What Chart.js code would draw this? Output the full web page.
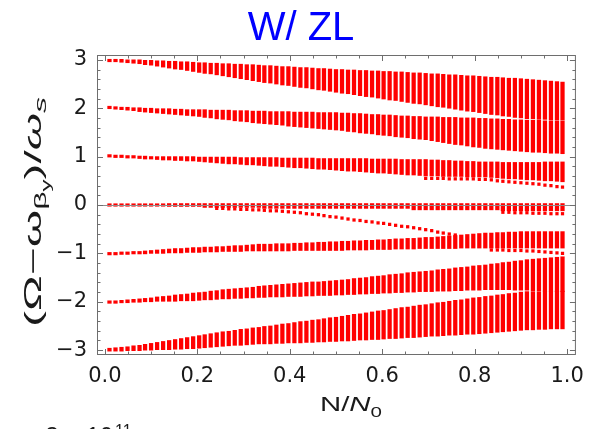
<!DOCTYPE html>
<html>
<head>
<meta charset="utf-8">
<script src="https://cdn.jsdelivr.net/npm/chart.js@4.4.1/dist/chart.umd.min.js"></script>
<style>
  html, body { margin: 0; padding: 0; background: #fff; }
  #wrap { width: 593px; height: 429px; position: relative; }
</style>
</head>
<body>
<div id="wrap"><canvas id="chart"></canvas></div>
<script>
// N/N0 sample points (one column of bars each)
var xs = [0.010,0.023,0.036,0.049,0.062,0.075,0.087,0.100,0.113,0.126,
          0.139,0.152,0.165,0.178,0.191,0.204,0.216,0.229,0.242,0.255,
          0.268,0.281,0.294,0.307,0.320,0.333,0.345,0.358,0.371,0.384,
          0.397,0.410,0.423,0.436,0.449,0.462,0.474,0.487,0.500,0.513,
          0.526,0.539,0.552,0.565,0.578,0.591,0.603,0.616,0.629,0.642,
          0.655,0.668,0.681,0.694,0.707,0.720,0.732,0.745,0.758,0.771,
          0.784,0.797,0.810,0.823,0.836,0.849,0.861,0.874,0.887,0.900,
          0.913,0.926,0.939,0.952,0.965,0.978,0.990];

// mode +3
var mode3Hi = [3.01,3.01,3.01,3.00,3.00,3.00,2.99,2.99,2.98,2.98,
               2.97,2.97,2.96,2.96,2.95,2.94,2.94,2.93,2.93,2.92,
               2.92,2.91,2.91,2.90,2.90,2.89,2.88,2.88,2.87,2.86,
               2.86,2.85,2.84,2.84,2.83,2.82,2.82,2.81,2.80,2.80,
               2.79,2.79,2.78,2.78,2.77,2.77,2.76,2.76,2.75,2.75,
               2.74,2.73,2.73,2.72,2.71,2.71,2.70,2.69,2.69,2.68,
               2.67,2.67,2.66,2.65,2.64,2.64,2.63,2.62,2.62,2.61,
               2.60,2.59,2.58,2.57,2.56,2.55,2.54];
var mode3Lo = [2.96,2.96,2.95,2.94,2.93,2.92,2.90,2.89,2.87,2.85,
               2.83,2.81,2.80,2.78,2.76,2.74,2.72,2.71,2.69,2.67,
               2.65,2.63,2.61,2.59,2.57,2.55,2.53,2.52,2.50,2.48,
               2.47,2.45,2.43,2.42,2.40,2.38,2.37,2.35,2.33,2.31,
               2.30,2.28,2.26,2.24,2.23,2.21,2.19,2.17,2.16,2.14,
               2.12,2.10,2.09,2.07,2.05,2.03,2.02,2.00,1.98,1.96,
               1.94,1.93,1.91,1.89,1.87,1.86,1.84,1.83,1.81,1.80,
               1.78,1.78,1.77,1.77,1.76,1.76,1.76];

// mode +2
var mode2Hi = [2.03,2.03,2.02,2.02,2.01,2.01,2.00,2.00,1.99,1.99,
               1.99,1.98,1.98,1.97,1.97,1.97,1.97,1.96,1.96,1.96,
               1.96,1.95,1.95,1.95,1.94,1.94,1.94,1.93,1.93,1.93,
               1.93,1.92,1.92,1.92,1.92,1.91,1.91,1.91,1.91,1.90,
               1.90,1.89,1.89,1.88,1.87,1.87,1.86,1.86,1.85,1.84,
               1.84,1.83,1.83,1.82,1.82,1.82,1.81,1.81,1.81,1.80,
               1.80,1.80,1.79,1.79,1.78,1.78,1.77,1.77,1.76,1.76,
               1.75,1.75,1.75,1.74,1.74,1.74,1.74];
var mode2Lo = [1.99,1.98,1.97,1.96,1.95,1.93,1.92,1.91,1.90,1.89,
               1.88,1.87,1.86,1.85,1.84,1.83,1.81,1.80,1.78,1.77,
               1.76,1.74,1.73,1.72,1.70,1.69,1.68,1.67,1.66,1.65,
               1.63,1.62,1.61,1.60,1.59,1.58,1.57,1.56,1.55,1.54,
               1.52,1.51,1.49,1.48,1.47,1.45,1.44,1.43,1.41,1.40,
               1.39,1.37,1.36,1.35,1.33,1.31,1.29,1.27,1.25,1.24,
               1.22,1.20,1.19,1.17,1.16,1.15,1.14,1.13,1.12,1.11,
               1.10,1.09,1.09,1.08,1.07,1.07,1.06];

// mode +1
var mode1Hi = [1.03,1.03,1.02,1.02,1.01,1.01,1.01,1.00,1.00,1.00,
               1.00,1.00,1.00,1.00,1.00,0.99,0.99,0.99,0.99,0.99,
               0.99,0.99,0.98,0.98,0.98,0.98,0.98,0.98,0.98,0.97,
               0.97,0.97,0.97,0.97,0.97,0.96,0.96,0.96,0.96,0.96,
               0.96,0.96,0.96,0.96,0.95,0.95,0.95,0.95,0.95,0.94,
               0.94,0.94,0.94,0.94,0.93,0.93,0.92,0.92,0.91,0.91,
               0.90,0.90,0.89,0.89,0.89,0.89,0.88,0.88,0.88,0.88,
               0.88,0.88,0.88,0.89,0.89,0.89,0.89];
var mode1Lo = [0.99,0.98,0.98,0.97,0.97,0.96,0.95,0.95,0.94,0.93,
               0.93,0.92,0.92,0.91,0.91,0.90,0.89,0.88,0.87,0.86,
               0.85,0.85,0.84,0.83,0.83,0.82,0.81,0.80,0.80,0.79,
               0.78,0.77,0.77,0.76,0.75,0.74,0.74,0.73,0.72,0.71,
               0.70,0.70,0.69,0.68,0.67,0.66,0.66,0.65,0.64,0.63,
               0.62,0.62,0.61,0.60,0.60,0.60,0.59,0.59,0.59,0.59,
               0.58,0.58,0.58,0.58,0.57,0.56,0.55,0.54,0.54,0.53,
               0.52,0.52,0.51,0.50,0.50,0.49,0.48];
// split-off points under mode +1 (from xs[53] on)
var mode1Dots = [0.55,0.55,0.55,0.55,0.54,0.54,0.54,0.54,0.54,0.53,0.53,
                 0.52,0.50,0.49,0.48,0.47,0.46,0.45,
                 0.44,0.43,0.41,0.40,0.38,0.37];

// mode 0
var mode0Hi = [0.03,0.03,0.03,0.03,0.03,0.03,0.03,0.03,0.03,0.03,
               0.03,0.03,0.03,0.03,0.03,0.03,0.03,0.03,0.03,0.03,
               0.03,0.03,0.03,0.03,0.03,0.03,0.03,0.03,0.03,0.03,
               0.03,0.03,0.03,0.03,0.03,0.03,0.03,0.03,0.03,0.03,
               0.03,0.03,0.03,0.03,0.03,0.03,0.03,0.03,0.03,0.03,
               0.03,0.03,0.03,0.03,0.03,0.03,0.03,0.03,0.03,0.03,
               0.03,0.03,0.03,0.03,0.03,0.03,0.03,0.03,0.03,0.03,
               0.03,0.03,0.03,0.03,0.03,0.03,0.03];
var mode0Lo = [0.00,0.00,0.00,0.00,0.00,0.00,0.00,0.00,0.00,0.00,
               -0.03,-0.03,-0.03,-0.03,-0.03,-0.03,-0.05,-0.05,-0.05,-0.05,
               -0.05,-0.05,-0.05,-0.05,-0.05,-0.05,-0.07,-0.07,-0.07,-0.07,
               -0.07,-0.07,-0.07,-0.07,-0.07,-0.07,-0.07,-0.07,-0.07,-0.07,
               -0.07,-0.07,-0.07,-0.07,-0.07,-0.07,-0.07,-0.07,-0.07,-0.07,
               -0.07,-0.10,-0.10,-0.10,-0.10,-0.10,-0.10,-0.10,-0.10,-0.10,
               -0.10,-0.10,-0.10,-0.10,-0.10,-0.10,-0.12,-0.12,-0.12,-0.12,
               -0.12,-0.12,-0.12,-0.12,-0.12,-0.12,-0.12];
// points just under mode 0 (from xs[66] on)
var mode0Dots = [-0.15,-0.15,-0.16,-0.16,-0.16,-0.17,-0.17,-0.17,-0.18,-0.18,-0.18];
// branch leaving mode 0 and joining mode -1 (xs[18] .. xs[58])
var branchDots = [-0.07,-0.07,-0.08,-0.08,-0.09,-0.09,-0.10,-0.10,-0.11,-0.12,
                  -0.12,-0.13,-0.14,-0.15,-0.16,-0.18,-0.19,-0.20,-0.22,-0.24,
                  -0.25,-0.27,-0.29,-0.31,-0.32,-0.34,-0.35,-0.37,-0.38,-0.40,
                  -0.42,-0.44,-0.45,-0.47,-0.49,-0.51,-0.53,-0.56,-0.58,-0.60,
                  -0.62];

// mode -1
var modeN1Hi = [-0.98,-0.98,-0.97,-0.97,-0.96,-0.96,-0.95,-0.94,-0.93,-0.92,
                -0.91,-0.90,-0.90,-0.89,-0.88,-0.88,-0.87,-0.87,-0.86,-0.86,
                -0.85,-0.84,-0.84,-0.83,-0.82,-0.81,-0.81,-0.81,-0.80,-0.80,
                -0.80,-0.79,-0.79,-0.78,-0.78,-0.77,-0.77,-0.76,-0.76,-0.75,
                -0.75,-0.74,-0.74,-0.73,-0.73,-0.72,-0.72,-0.71,-0.70,-0.70,
                -0.69,-0.69,-0.68,-0.67,-0.67,-0.66,-0.65,-0.64,-0.63,-0.62,
                -0.61,-0.60,-0.59,-0.58,-0.58,-0.57,-0.57,-0.56,-0.56,-0.55,
                -0.55,-0.55,-0.55,-0.55,-0.55,-0.55,-0.55];
var modeN1Lo = [-1.02,-1.02,-1.02,-1.01,-1.01,-1.01,-1.01,-1.00,-1.00,-1.00,
                -0.99,-0.99,-0.99,-0.98,-0.98,-0.98,-0.97,-0.97,-0.97,-0.96,
                -0.96,-0.96,-0.96,-0.95,-0.95,-0.95,-0.95,-0.95,-0.95,-0.95,
                -0.95,-0.94,-0.94,-0.94,-0.94,-0.94,-0.94,-0.94,-0.94,-0.94,
                -0.93,-0.93,-0.93,-0.93,-0.92,-0.92,-0.92,-0.92,-0.91,-0.91,
                -0.91,-0.91,-0.90,-0.90,-0.90,-0.90,-0.90,-0.90,-0.90,-0.89,
                -0.89,-0.89,-0.89,-0.89,-0.89,-0.89,-0.89,-0.89,-0.89,-0.89,
                -0.89,-0.89,-0.89,-0.89,-0.89,-0.89,-0.89];
// points under mode -1 (from xs[64] on)
var modeN1Dots = [-0.93,-0.93,-0.93,-0.94,-0.94,-0.94,-0.95,-0.95,-0.96,-0.97,-0.98,-0.99,-1.00];

// mode -2
var modeN2Hi = [-1.98,-1.98,-1.97,-1.96,-1.95,-1.94,-1.93,-1.92,-1.90,-1.89,
                -1.88,-1.86,-1.85,-1.84,-1.82,-1.81,-1.80,-1.78,-1.77,-1.75,
                -1.74,-1.73,-1.72,-1.71,-1.70,-1.68,-1.67,-1.66,-1.65,-1.64,
                -1.63,-1.62,-1.61,-1.60,-1.59,-1.59,-1.58,-1.57,-1.56,-1.55,
                -1.54,-1.52,-1.51,-1.50,-1.48,-1.47,-1.46,-1.44,-1.43,-1.42,
                -1.40,-1.39,-1.38,-1.37,-1.36,-1.34,-1.33,-1.32,-1.30,-1.29,
                -1.28,-1.26,-1.25,-1.24,-1.22,-1.21,-1.19,-1.18,-1.16,-1.15,
                -1.13,-1.12,-1.11,-1.10,-1.09,-1.08,-1.07];
var modeN2Lo = [-2.03,-2.03,-2.02,-2.02,-2.01,-2.01,-2.00,-2.00,-1.99,-1.99,
                -1.99,-1.99,-1.98,-1.98,-1.98,-1.97,-1.96,-1.96,-1.95,-1.94,
                -1.94,-1.93,-1.93,-1.92,-1.92,-1.91,-1.91,-1.90,-1.90,-1.90,
                -1.89,-1.89,-1.89,-1.88,-1.88,-1.87,-1.87,-1.87,-1.86,-1.86,
                -1.85,-1.85,-1.84,-1.84,-1.83,-1.83,-1.82,-1.82,-1.81,-1.81,
                -1.80,-1.80,-1.79,-1.79,-1.79,-1.78,-1.78,-1.78,-1.77,-1.77,
                -1.76,-1.76,-1.76,-1.75,-1.75,-1.75,-1.75,-1.75,-1.76,-1.76,
                -1.76,-1.77,-1.77,-1.78,-1.78,-1.79,-1.79];

// mode -3
var modeN3Hi = [-2.96,-2.95,-2.94,-2.93,-2.91,-2.90,-2.88,-2.86,-2.84,-2.82,
                -2.80,-2.78,-2.76,-2.74,-2.72,-2.70,-2.68,-2.66,-2.64,-2.62,
                -2.61,-2.59,-2.57,-2.56,-2.54,-2.53,-2.51,-2.50,-2.48,-2.46,
                -2.45,-2.43,-2.41,-2.40,-2.38,-2.37,-2.35,-2.33,-2.32,-2.30,
                -2.28,-2.26,-2.25,-2.23,-2.21,-2.19,-2.18,-2.16,-2.14,-2.12,
                -2.11,-2.09,-2.07,-2.06,-2.04,-2.02,-2.01,-1.99,-1.97,-1.96,
                -1.94,-1.92,-1.91,-1.89,-1.88,-1.86,-1.85,-1.83,-1.82,-1.80,
                -1.79,-1.79,-1.79,-1.78,-1.78,-1.78,-1.78];
var modeN3Lo = [-3.02,-3.02,-3.02,-3.01,-3.01,-3.01,-3.00,-3.00,-2.99,-2.99,
                -2.99,-2.98,-2.98,-2.97,-2.97,-2.96,-2.95,-2.94,-2.93,-2.92,
                -2.91,-2.90,-2.90,-2.89,-2.88,-2.87,-2.87,-2.87,-2.86,-2.86,
                -2.85,-2.85,-2.85,-2.84,-2.84,-2.83,-2.83,-2.82,-2.82,-2.81,
                -2.81,-2.80,-2.79,-2.79,-2.78,-2.78,-2.77,-2.76,-2.76,-2.75,
                -2.74,-2.74,-2.73,-2.72,-2.71,-2.71,-2.70,-2.69,-2.69,-2.68,
                -2.67,-2.67,-2.66,-2.65,-2.64,-2.63,-2.62,-2.61,-2.60,-2.59,
                -2.58,-2.58,-2.57,-2.57,-2.56,-2.56,-2.56];

var RED = '#ff0000';

function rangos(lo, hi) {
  var out = [];
  for (var i = 0; i < xs.length; i++) {
    out.push({x: xs[i], y: [lo[i], hi[i]]});
  }
  return out;
}

function puntos(desde, vals) {
  var out = [];
  for (var i = 0; i < vals.length; i++) {
    out.push({x: xs[desde + i], y: vals[i]});
  }
  return out;
}

function barras(lo, hi) {
  return {
    type: 'bar',
    data: rangos(lo, hi),
    backgroundColor: RED,
    borderWidth: 0,
    barThickness: 3.6,
    minBarLength: 2.5,
    grouped: false
  };
}

function dots(desde, vals) {
  return {
    type: 'scatter',
    data: puntos(desde, vals),
    backgroundColor: RED,
    borderWidth: 0,
    pointStyle: 'rect',
    pointRadius: 2.3,
    showLine: false
  };
}

// draws a run of text pieces (sub/superscripts) stretched to a given length
function textoPartes(ctx, partes, largo) {
  var total = 0;
  partes.forEach(function(q) { ctx.font = q.f; q.w = ctx.measureText(q.t).width; total += q.w; });
  var k = largo / total;
  ctx.scale(k, 1);
  var cx = -total / 2;
  partes.forEach(function(q) { ctx.font = q.f; ctx.fillText(q.t, cx, q.dy); cx += q.w; });
}

// frame, inward ticks, zero line and axis titles (Mathematica look)
var marco = {
  id: 'marco',
  afterDatasetsDraw: function(chart) {
    var ctx = chart.ctx, a = chart.chartArea;
    var sx = chart.scales.x, sy = chart.scales.y;
    ctx.save();

    var y0 = Math.round(sy.getPixelForValue(0)) + 0.5;
    ctx.strokeStyle = '#8c8c8c';
    ctx.lineWidth = 1;
    ctx.beginPath();
    ctx.moveTo(a.left, y0);
    ctx.lineTo(a.right, y0);
    ctx.stroke();

    ctx.strokeStyle = '#6e6e6e';
    ctx.strokeRect(a.left + 0.5, a.top + 0.5, a.right - a.left - 1, a.bottom - a.top - 1);

    ctx.beginPath();
    var i, p, len;
    for (i = -15; i <= 15; i++) {
      p = Math.round(sy.getPixelForValue(i * 0.2)) + 0.5;
      len = (i % 5 === 0) ? 6 : 3.5;
      ctx.moveTo(a.left, p); ctx.lineTo(a.left + len, p);
      ctx.moveTo(a.right, p); ctx.lineTo(a.right - len, p);
    }
    for (i = 0; i <= 20; i++) {
      p = Math.round(sx.getPixelForValue(i * 0.05)) + 0.5;
      len = (i % 4 === 0) ? 6 : 3.5;
      ctx.moveTo(p, a.bottom); ctx.lineTo(p, a.bottom - len);
      ctx.moveTo(p, a.top); ctx.lineTo(p, a.top + len);
    }
    ctx.stroke();

    ctx.fillStyle = '#1a1a1a';
    ctx.textBaseline = 'alphabetic';

    // y title: (Ω−ω_{β_y})/ω_s
    ctx.save();
    ctx.translate(41, 212);
    ctx.rotate(-Math.PI / 2);
    textoPartes(ctx, [
      {t: '(\u03A9\u2212\u03C9', f: '24px "Liberation Sans"', dy: 0},
      {t: '\u03B2', f: '16px "Liberation Sans"', dy: 5},
      {t: 'y', f: '12px "Liberation Sans"', dy: 9},
      {t: ')/', f: '24px "Liberation Sans"', dy: 0},
      {t: '\u03C9', f: 'italic 24px "Liberation Sans"', dy: 0},
      {t: 's', f: 'italic 16px "Liberation Sans"', dy: 5}
    ], 230);
    ctx.restore();

    // x title: N/N_0
    ctx.save();
    ctx.translate(351, 411);
    textoPartes(ctx, [
      {t: 'N/', f: '20px "Liberation Sans"', dy: 0},
      {t: 'N', f: 'italic 20px "Liberation Sans"', dy: 0},
      {t: '0', f: '14px "Liberation Sans"', dy: 6}
    ], 62);
    ctx.restore();

    // note under the plot, cut off by the bottom edge of the picture
    ctx.font = '24px "Liberation Sans"';
    ctx.textAlign = 'right';
    ctx.fillText('\u2248 3 \u00D7 10', 113, 444);
    ctx.font = '16px "Liberation Sans"';
    ctx.textAlign = 'left';
    ctx.fillText('11', 115, 436);

    ctx.restore();
  }
};

window.onload = function() {
  var datos = {
    datasets: [
      barras(mode3Lo, mode3Hi),
      barras(mode2Lo, mode2Hi),
      barras(mode1Lo, mode1Hi),
      barras(mode0Lo, mode0Hi),
      barras(modeN1Lo, modeN1Hi),
      barras(modeN2Lo, modeN2Hi),
      barras(modeN3Lo, modeN3Hi),
      dots(53, mode1Dots),
      dots(66, mode0Dots),
      dots(18, branchDots),
      dots(64, modeN1Dots)
    ]
  };

  var grafica = new Chart(document.getElementById('chart').getContext('2d'), {
    type: 'bar',
    data: datos,
    options: {
      responsive: true,
      maintainAspectRatio: false,
      animation: false,
      layout: { padding: { left: 18, right: 9, top: 0, bottom: 0 } },
      plugins: {
        legend: { display: false },
        tooltip: { enabled: false },
        title: {
          display: true,
          text: 'W/ ZL',
          color: '#0000ff',
          font: { family: 'Liberation Sans', size: 40, weight: 'normal' },
          padding: { top: 5, bottom: 2 }
        }
      },
      scales: {
        x: {
          type: 'linear',
          min: -0.017,
          max: 1.019,
          offset: false,
          grid: { display: false, drawTicks: false },
          border: { display: false },
          ticks: {
            stepSize: 0.2,
            includeBounds: false,
            padding: 9,
            color: '#1a1a1a',
            font: { family: 'DejaVu Sans', size: 21 },
            callback: function(v) { return Number(v).toFixed(1); }
          },
          afterFit: function(s) { s.height = 74; }
        },
        y: {
          min: -3.1,
          max: 3.1,
          grid: { display: false, drawTicks: false },
          border: { display: false },
          ticks: {
            stepSize: 1,
            includeBounds: false,
            padding: 10,
            color: '#1a1a1a',
            font: { family: 'DejaVu Sans', size: 21 },
            callback: function(v) { return String(Math.round(v)).replace('-', '\u2212'); }
          },
          afterFit: function(s) { s.width = 79; }
        }
      }
    },
    plugins: [marco]
  });
};
</script>
</body>
</html>
